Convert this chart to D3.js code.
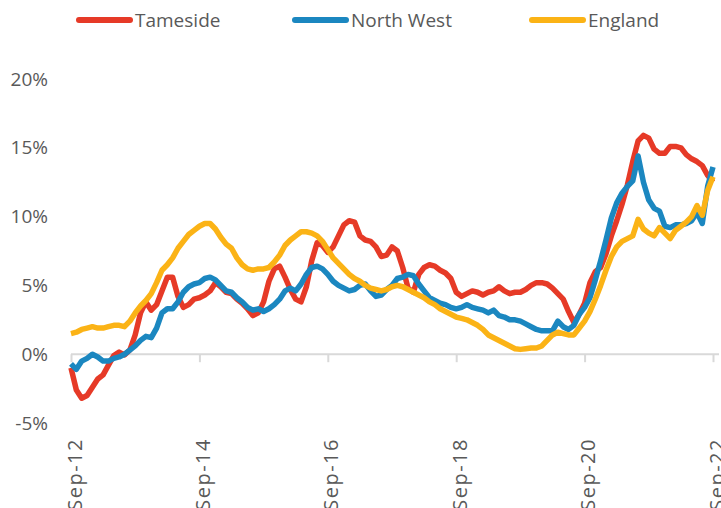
<!DOCTYPE html>
<html>
<head>
<meta charset="utf-8">
<script src="https://cdn.jsdelivr.net/npm/d3@7"></script>
<style>
    body { margin: 0; background: #fff; }
    text { font-family: 'Open Sans', sans-serif; fill: #595959; }
</style>
</head>
<body>
<div id="chart"></div>
<script>
// monthly % change, Sep-12 .. Sep-22
const seriesNames = ['Tameside', 'North West', 'England']
const tickLabels = ['Sep-12', 'Sep-14', 'Sep-16', 'Sep-18', 'Sep-20', 'Sep-22']
const yTicks = [-5, 0, 5, 10, 15, 20]

const tameside = [
    -1.0, -2.6, -3.2, -3.0, -2.4, -1.8, -1.5, -0.8, -0.1, 0.15, -0.05, 0.3,
    1.4, 3.0, 3.8, 3.2, 3.6, 4.6, 5.6, 5.6, 4.2, 3.4, 3.6, 4.0,
    4.1, 4.3, 4.6, 5.2, 4.9, 4.5, 4.4, 4.0, 3.7, 3.3, 2.8, 3.0,
    3.8, 5.3, 6.2, 6.4, 5.6, 4.7, 4.0, 3.8, 4.9, 6.8, 8.1, 7.9,
    7.4, 7.8, 8.6, 9.4, 9.7, 9.6, 8.6, 8.3, 8.2, 7.8, 7.1, 7.2,
    7.8, 7.5, 6.3, 4.8, 4.5, 5.8, 6.3, 6.5, 6.4, 6.1, 5.9, 5.5,
    4.5, 4.2, 4.4, 4.6, 4.5, 4.3, 4.5, 4.6, 4.9, 4.6, 4.4, 4.5,
    4.5, 4.7, 5.0, 5.2, 5.2, 5.1, 4.8, 4.4, 4.0, 3.1, 2.3, 2.9,
    3.7, 5.2, 6.0, 6.3, 7.3, 8.6, 9.7, 10.9, 12.3, 14.0, 15.5, 15.9,
    15.7, 14.9, 14.6, 14.6, 15.1, 15.1, 15.0, 14.5, 14.2, 14.0, 13.7, 13.0,
    12.5
]
const northWest = [
    -0.7, -1.1, -0.5, -0.3, 0.0, -0.2, -0.5, -0.5, -0.3, -0.2, 0.0, 0.3,
    0.6, 1.0, 1.3, 1.2, 1.9, 3.0, 3.3, 3.3, 3.8, 4.5, 4.9, 5.1,
    5.2, 5.5, 5.6, 5.4, 5.0, 4.6, 4.5, 4.1, 3.8, 3.4, 3.2, 3.3,
    3.1, 3.3, 3.6, 4.0, 4.6, 4.8, 4.6, 5.1, 5.8, 6.3, 6.4, 6.2,
    5.8, 5.3, 5.0, 4.8, 4.6, 4.7, 5.0, 5.1, 4.6, 4.2, 4.3, 4.7,
    5.0, 5.5, 5.6, 5.8, 5.7, 5.1, 4.6, 4.1, 3.9, 3.7, 3.6, 3.4,
    3.3, 3.4, 3.6, 3.4, 3.3, 3.2, 3.0, 3.2, 2.8, 2.7, 2.5, 2.5,
    2.4, 2.2, 2.0, 1.8, 1.7, 1.7, 1.7, 2.4, 2.0, 1.8, 2.1, 2.9,
    3.4, 4.1, 5.4, 6.8, 8.3, 9.9, 11.0, 11.7, 12.2, 12.6, 14.4, 12.5,
    11.2, 10.6, 10.4, 9.3, 9.2, 9.4, 9.4, 9.5, 9.7, 10.3, 9.5, 12.2,
    13.6
]
const england = [
    1.5, 1.6, 1.8, 1.9, 2.0, 1.9, 1.9, 2.0, 2.1, 2.1, 2.0, 2.4,
    3.0, 3.5, 3.9, 4.4, 5.2, 6.1, 6.5, 7.0, 7.7, 8.2, 8.7, 9.0,
    9.3, 9.5, 9.5, 9.1, 8.5, 8.0, 7.7, 7.0, 6.5, 6.2, 6.1, 6.2,
    6.2, 6.3, 6.7, 7.2, 7.9, 8.3, 8.6, 8.9, 8.9, 8.8, 8.6, 8.2,
    7.6, 7.0, 6.6, 6.2, 5.8, 5.5, 5.3, 5.0, 4.8, 4.7, 4.6, 4.7,
    4.9, 5.0, 4.9, 4.7, 4.5, 4.3, 4.1, 3.8, 3.6, 3.3, 3.1, 2.9,
    2.7, 2.6, 2.5, 2.3, 2.1, 1.8, 1.4, 1.2, 1.0, 0.8, 0.6, 0.4,
    0.35, 0.4, 0.45, 0.45, 0.6, 1.0, 1.4, 1.6, 1.5, 1.4, 1.4, 1.9,
    2.4, 3.1, 4.0, 5.0, 6.1, 7.1, 7.8, 8.2, 8.4, 8.6, 9.8, 9.1,
    8.8, 8.6, 9.2, 8.8, 8.4, 9.0, 9.3, 9.6, 10.0, 10.8, 10.1, 11.9,
    12.9
]

const colours = ['#e63a27', '#1b87c0', '#fbb316']
const series = [tameside, northWest, england]

const width = 721
const height = 508

const x = d3.scaleLinear().domain([0, tameside.length - 1]).range([71, 713])
const y = d3.scaleLinear().domain([-5, 20]).range([423, 79])

const svg = d3.select('#chart')
    .append('svg')
    .attr('width', width)
    .attr('height', height)

// y labels, no axis line
svg.append('g')
    .selectAll('text')
    .data(yTicks)
    .enter()
    .append('text')
    .attr('x', 48)
    .attr('y', (d) => y(d))
    .attr('dy', '0.35em')
    .attr('text-anchor', 'end')
    .style('font-size', '19px')
    .text((d) => d + '%')

// x axis at 0%
const tickIdx = tickLabels.map((d, i) => i * 24)
const xAxis = d3.axisBottom(x)
    .tickValues(tickIdx)
    .tickSize(8)
    .tickFormat((d, i) => tickLabels[i])
const gx = svg.append('g')
    .attr('transform', `translate(0, ${y(0)})`)
    .call(xAxis)
gx.select('.domain').attr('d', `M${x(0)},0H719`).attr('stroke', '#d9d9d9').attr('stroke-width', 2)
gx.selectAll('.tick line').attr('stroke', '#d9d9d9').attr('stroke-width', 2)
gx.selectAll('.tick text')
    .attr('transform', `translate(3, ${438 - y(0)}) rotate(-90)`)
    .attr('x', 0)
    .attr('y', 0)
    .attr('dy', '0.35em')
    .attr('text-anchor', 'end')
    .style('font-size', '20px')
    .style('letter-spacing', '1.5px')
    .style('fill', '#595959')

const line = d3.line()
    .x((d, i) => x(i))
    .y((d) => y(d))

svg.selectAll('path.series')
    .data(series)
    .enter()
    .append('path')
    .attr('class', 'series')
    .attr('d', line)
    .attr('fill', 'none')
    .attr('stroke', (d, i) => colours[i])
    .attr('stroke-width', 5.5)
    .attr('stroke-linejoin', 'round')

// legend
const legendX = [77, 293, 530]
const legend = svg.selectAll('g.legend')
    .data(seriesNames)
    .enter()
    .append('g')
    .attr('class', 'legend')
    .attr('transform', (d, i) => `translate(${legendX[i]}, 20)`)
legend.append('line')
    .attr('x1', 2)
    .attr('x2', 53)
    .attr('stroke', (d, i) => colours[i])
    .attr('stroke-width', 6)
    .attr('stroke-linecap', 'round')
legend.append('text')
    .attr('x', 58)
    .attr('dy', '0.35em')
    .style('font-size', '19px')
    .text((d) => d)
</script>
</body>
</html>
